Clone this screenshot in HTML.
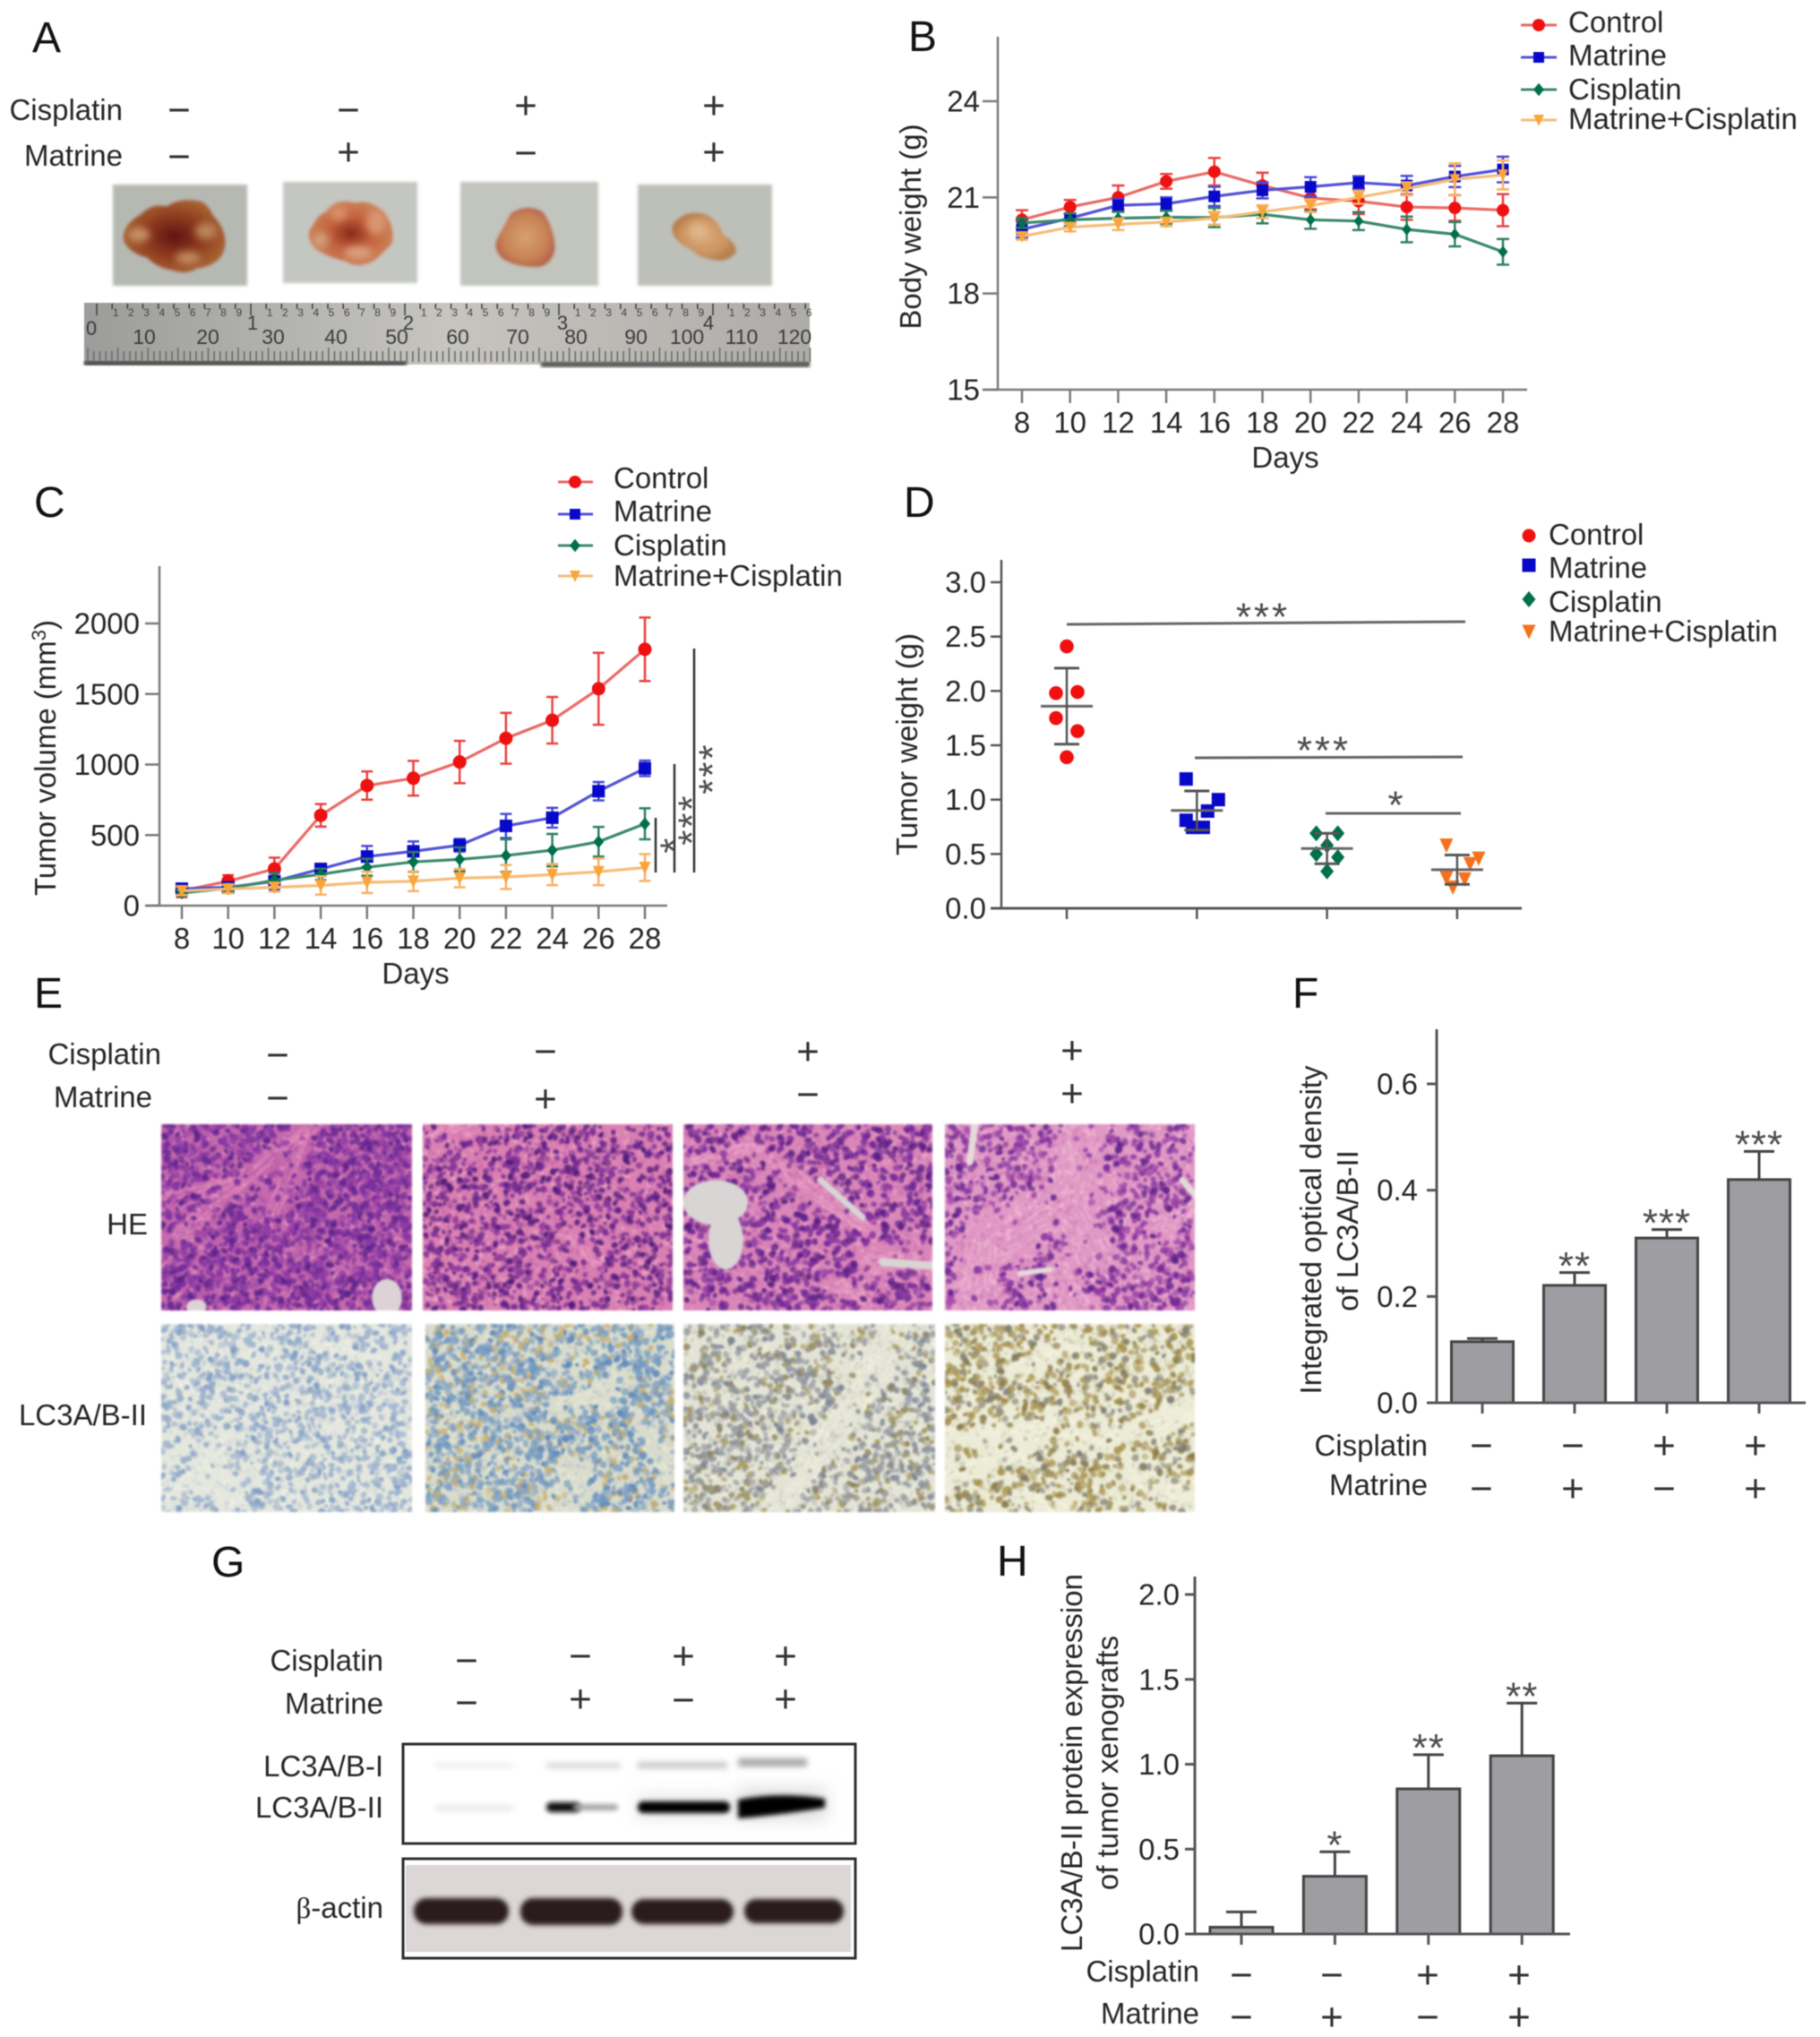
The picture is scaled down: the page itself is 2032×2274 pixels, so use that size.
<!DOCTYPE html>
<html lang="en">
<head>
<meta charset="utf-8">
<title>Matrine and cisplatin tumor xenograft figure</title>
<style>
  html, body { margin: 0; padding: 0; background: #fff; }
  #figure { position: relative; width: 2032px; height: 2274px; overflow: hidden; background: #fff; }
  #figure canvas { position: absolute; filter: blur(1.1px); }
  #plot { position: absolute; left: 0; top: 0; filter: blur(0.55px); }
  text { font-family: "Liberation Sans", "DejaVu Sans", sans-serif; fill: #262626; font-size: 33px; }
  .letter { font-size: 48px; fill: #111; }
  .end { text-anchor: end; }
  .mid { text-anchor: middle; }
</style>
</head>
<body>
<div id="figure">
<svg id="plot" width="2032" height="2274" viewBox="0 0 2032 2274" xmlns="http://www.w3.org/2000/svg">
  <defs>
    <filter id="soft" x="-10%" y="-10%" width="120%" height="120%"><feGaussianBlur stdDeviation="1.6"/></filter>
    <filter id="patch" x="-60%" y="-60%" width="220%" height="220%"><feGaussianBlur stdDeviation="4"/></filter>
    <filter id="band" x="-20%" y="-400%" width="140%" height="900%"><feGaussianBlur stdDeviation="2.6"/></filter>
    <filter id="faint" x="-20%" y="-500%" width="140%" height="1100%"><feGaussianBlur stdDeviation="3.4"/></filter>
    <filter id="halo" x="-40%" y="-200%" width="180%" height="500%"><feGaussianBlur stdDeviation="10"/></filter>
    <radialGradient id="t1"><stop offset="0" stop-color="#5f1512"/><stop offset=".55" stop-color="#8e3a20"/><stop offset="1" stop-color="#a8622f"/></radialGradient>
    <radialGradient id="t2"><stop offset="0" stop-color="#8a2a1c"/><stop offset=".5" stop-color="#c2603c"/><stop offset="1" stop-color="#cc8258"/></radialGradient>
    <radialGradient id="t3"><stop offset="0" stop-color="#d6a070"/><stop offset=".7" stop-color="#c98456"/><stop offset="1" stop-color="#b76a4c"/></radialGradient>
    <radialGradient id="t4"><stop offset="0" stop-color="#d9a878"/><stop offset=".7" stop-color="#cb9460"/><stop offset="1" stop-color="#b8804c"/></radialGradient>
    <linearGradient id="rulerFill" x1="0" x2="1" y1="0" y2="0"><stop offset="0" stop-color="#9c9c9a"/><stop offset=".5" stop-color="#c6c5c0"/><stop offset="1" stop-color="#aeaca8"/></linearGradient>
  </defs>

  <g id="panel-a">
    <text class="letter" x="36" y="58">A</text>
    <text class="end" x="137" y="134">Cisplatin</text>
    <text class="end" x="137" y="185">Matrine</text>
    <g filter="url(#soft)">
      <rect x="126" y="206" width="150" height="113" fill="#b6b9b2"/>
      <path d="M158 238 Q170 226 186 230 Q200 220 222 224 Q232 226 238 240 Q252 254 252 272 Q250 296 220 300 Q208 308 192 302 Q176 300 164 288 Q146 284 138 270 Q134 252 158 238 Z" fill="url(#t1)"/>
      <g filter="url(#patch)">
        <ellipse cx="155" cy="262" rx="12" ry="8" fill="#c79068"/>
        <ellipse cx="230" cy="258" rx="12" ry="9" fill="#bb8458"/>
        <ellipse cx="210" cy="288" rx="14" ry="7" fill="#c08a5c"/>
      </g>
      <rect x="316" y="203" width="150" height="113" fill="#c4c7c1"/>
      <path d="M364 236 Q376 220 396 226 Q414 222 428 236 Q442 252 438 272 Q428 282 420 290 Q400 302 386 292 Q366 288 352 278 Q338 262 350 250 Q354 240 364 236 Z" fill="url(#t2)"/>
      <g filter="url(#patch)">
        <ellipse cx="420" cy="248" rx="11" ry="14" fill="#d99570"/>
        <ellipse cx="378" cy="238" rx="10" ry="8" fill="#d8906a"/>
        <ellipse cx="400" cy="282" rx="16" ry="7" fill="#dba080"/>
        <ellipse cx="358" cy="268" rx="8" ry="9" fill="#d0a07c"/>
      </g>
      <rect x="514" y="203" width="154" height="116" fill="#c2c5bd"/>
      <path d="M570 238 Q588 226 606 236 Q618 252 620 274 Q620 292 604 298 Q580 300 562 290 Q548 278 556 264 Q564 250 570 238 Z" fill="url(#t3)"/>
      <rect x="712" y="206" width="150" height="113" fill="#bdc0b8"/>
      <path d="M760 242 Q772 234 790 240 Q802 246 808 262 Q822 270 822 282 Q812 294 796 290 Q780 288 770 278 Q752 270 750 256 Q750 248 760 242 Z" fill="url(#t4)"/>
      <ellipse cx="780" cy="258" rx="11" ry="9" fill="#e0b68c" filter="url(#patch)"/>
    </g>
    <g id="ruler">
      <rect x="94" y="338" width="810" height="69" fill="url(#rulerFill)"/>
      <rect x="94" y="403" width="360" height="5" fill="#444" filter="url(#soft)"/>
      <rect x="604" y="404" width="300" height="6" fill="#555" filter="url(#soft)"/>
    </g>
  </g>

  <g id="panel-b">
    <text class="letter" x="1014" y="57">B</text>
    <text class="mid" transform="rotate(-90 1028 253)" x="1028" y="253">Body weight (g)</text>
    <text class="mid" x="1435" y="522">Days</text>
  </g>

  <g id="panel-c">
    <text class="letter" x="38" y="577">C</text>
    <text class="mid" transform="rotate(-90 62 846)" x="62" y="846">Tumor volume (mm<tspan font-size="22" dy="-11">3</tspan><tspan dy="11">)</tspan></text>
    <text class="mid" x="464" y="1098">Days</text>
  </g>

  <g id="panel-d">
    <text class="letter" x="1009" y="577">D</text>
    <text class="mid" transform="rotate(-90 1024 831)" x="1024" y="831">Tumor weight (g)</text>
  </g>

  <g id="panel-e">
    <text class="letter" x="38" y="1125">E</text>
    <text class="end" x="180" y="1188">Cisplatin</text>
    <text class="end" x="170" y="1236">Matrine</text>
    <text class="end" x="165" y="1378">HE</text>
    <text class="end" x="164" y="1591">LC3A/B-II</text>
  </g>

  <g id="panel-f">
    <text class="letter" x="1443" y="1125">F</text>
    <text class="mid" transform="rotate(-90 1475 1373)" x="1475" y="1373">Integrated optical density</text>
    <text class="mid" transform="rotate(-90 1516 1374)" x="1516" y="1374">of LC3A/B-II</text>
    <text class="end" x="1594" y="1625">Cisplatin</text>
    <text class="end" x="1594" y="1669">Matrine</text>
  </g>

  <g id="panel-g">
    <text class="letter" x="236" y="1760">G</text>
    <text class="end" x="428" y="1865">Cisplatin</text>
    <text class="end" x="428" y="1913">Matrine</text>
    <text class="end" x="428" y="1983">LC3A/B-I</text>
    <text class="end" x="428" y="2029">LC3A/B-II</text>
    <text class="end" x="428" y="2141"><tspan font-family="'Liberation Serif', serif">β</tspan>-actin</text>

    <rect x="450" y="1947" width="505" height="111" fill="#fff"/>
    <g>
      <rect x="486" y="1969" width="87" height="4" fill="#e6e6e6" filter="url(#faint)"/>
      <rect x="610" y="1968" width="83" height="6" fill="#d4d4d4" filter="url(#faint)"/>
      <rect x="712" y="1967" width="100" height="7" fill="#c4c4c4" filter="url(#faint)"/>
      <rect x="824" y="1963" width="77" height="9" fill="#a4a4a4" filter="url(#faint)"/>
      <rect x="486" y="2016" width="87" height="5" fill="#e2e2e2" filter="url(#faint)"/>
      <rect x="712" y="2006" width="104" height="22" fill="#e2e2e2" filter="url(#halo)"/>
      <rect x="824" y="1998" width="98" height="32" fill="#d8d8d8" filter="url(#halo)"/>
      <rect x="610" y="2012" width="38" height="11" rx="5" fill="#111" filter="url(#band)"/>
      <rect x="640" y="2014" width="50" height="7" rx="3" fill="#a4a4a4" filter="url(#band)"/>
      <rect x="712" y="2011" width="103" height="13" rx="6" fill="#060606" filter="url(#band)"/>
      <path d="M824 2009 Q870 2000 921 2008 L921 2018 Q870 2026 824 2030 Z" fill="#020202" filter="url(#band)"/>
    </g>
    <rect x="450" y="1947" width="505" height="111" fill="none" stroke="#2e2e2e" stroke-width="3"/>
    <rect x="450" y="2075" width="505" height="111" fill="#fff"/>
    <rect x="453" y="2082" width="497" height="97" fill="#dcd6d6"/>
    <g filter="url(#band)">
      <rect x="462" y="2119" width="106" height="29" rx="14" fill="#2a1a1e"/>
      <rect x="581" y="2119" width="114" height="30" rx="14" fill="#2a1a1e"/>
      <rect x="705" y="2120" width="114" height="28" rx="14" fill="#2a1a1e"/>
      <rect x="831" y="2120" width="111" height="27" rx="13" fill="#2a1a1e"/>
    </g>
    <rect x="450" y="2075" width="505" height="111" fill="none" stroke="#2e2e2e" stroke-width="3"/>
  </g>

  <g id="panel-h">
    <text class="letter" x="1113" y="1759">H</text>
    <text class="mid" transform="rotate(-90 1208 1968)" x="1208" y="1968">LC3A/B-II protein expression</text>
    <text class="mid" transform="rotate(-90 1248 1968)" x="1248" y="1968">of tumor xenografts</text>
    <text class="end" x="1339" y="2212">Cisplatin</text>
    <text class="end" x="1339" y="2259">Matrine</text>
  </g>
</svg>
</div>

<script>
// ---------- chart data ----------
const days = [8, 10, 12, 14, 16, 18, 20, 22, 24, 26, 28];
const seriesNames = ['Control', 'Matrine', 'Cisplatin', 'Matrine+Cisplatin'];

// Panel B: body weight (g)
const bwTicks = [15, 18, 21, 24];
const bwControl = [20.3, 20.7, 21.0, 21.5, 21.8, 21.37, 20.98, 20.88, 20.7, 20.67, 20.6];
const bwControlErr = [0.3, 0.22, 0.37, 0.23, 0.43, 0.4, 0.35, 0.4, 0.4, 0.4, 0.5];
const bwMatrine = [20.0, 20.35, 20.75, 20.8, 21.03, 21.22, 21.33, 21.46, 21.37, 21.65, 21.87];
const bwMatrineErr = [0.25, 0.15, 0.2, 0.2, 0.3, 0.25, 0.3, 0.2, 0.3, 0.33, 0.4];
const bwCisplatin = [20.2, 20.3, 20.35, 20.38, 20.37, 20.47, 20.3, 20.26, 20.0, 19.85, 19.3];
const bwCisplatinErr = [0.15, 0.2, 0.2, 0.2, 0.3, 0.28, 0.28, 0.28, 0.4, 0.38, 0.4];
const bwCombo = [19.78, 20.07, 20.16, 20.23, 20.35, 20.55, 20.74, 21.0, 21.27, 21.56, 21.7];
const bwComboErr = [0.1, 0.13, 0.18, 0.13, 0.2, 0.2, 0.2, 0.2, 0.2, 0.5, 0.45];

// Panel C: tumor volume (mm3)
const tvTicks = [0, 500, 1000, 1500, 2000];
const tvControl = [105, 173, 260, 640, 851, 903, 1018, 1186, 1314, 1537, 1817];
const tvControlErr = [45, 43, 80, 80, 100, 123, 150, 180, 165, 255, 225];
const tvMatrine = [120, 130, 172, 260, 348, 385, 428, 565, 623, 811, 973];
const tvMatrineErr = [30, 25, 60, 30, 75, 70, 45, 85, 70, 65, 55];
const tvCisplatin = [90, 122, 180, 222, 272, 310, 328, 355, 393, 453, 580];
const tvCisplatinErr = [20, 20, 50, 40, 60, 70, 85, 115, 115, 105, 110];
const tvCombo = [105, 118, 130, 143, 165, 173, 195, 203, 220, 240, 270];
const tvComboErr = [30, 30, 30, 65, 75, 70, 65, 85, 75, 95, 95];

// Panel D: tumor weight (g)
const twTicks = [0, 0.5, 1, 1.5, 2, 2.5, 3];
const twControl = [2.41, 1.98, 1.99, 1.75, 1.63, 1.39];
const twMatrine = [1.19, 1.0, 0.895, 0.81, 0.745, 0.745];
const twCisplatin = [0.69, 0.69, 0.58, 0.5, 0.47, 0.34];
const twCombo = [0.58, 0.46, 0.41, 0.28, 0.27, 0.195];
const twMeans = [1.86, 0.9, 0.55, 0.355];
const twSpreads = [0.35, 0.18, 0.14, 0.135];

// Panel F: integrated optical density
const iodTicks = [0, 0.2, 0.4, 0.6];
const iodValues = [0.115, 0.221, 0.31, 0.42];
const iodUpper = [0.121, 0.245, 0.326, 0.473];
const iodStars = ['', '**', '***', '***'];

// Panel H: LC3A/B-II protein expression
const lc3Ticks = [0, 0.5, 1, 1.5, 2];
const lc3Values = [0.04, 0.34, 0.855, 1.05];
const lc3Upper = [0.13, 0.484, 1.056, 1.36];
const lc3Stars = ['', '*', '**', '**'];

// ---------- helpers ----------
const NS = 'http://www.w3.org/2000/svg';
const scale = (d0, d1, r0, r1) => v => r0 + (v - d0) * (r1 - r0) / (d1 - d0);
const styles = {
  control:   { line: '#e96b66', err: '#e8433f', fill: '#ee1111', strong: '#f01010', shape: 'circle' },
  matrine:   { line: '#5353d6', err: '#4a4ad4', fill: '#0808c8', strong: '#0808c8', shape: 'square' },
  cisplatin: { line: '#3d8a6a', err: '#2f8060', fill: '#00704c', strong: '#00704c', shape: 'diamond' },
  combo:     { line: '#f6bd7a', err: '#f7b264', fill: '#f9a53a', strong: '#f5711c', shape: 'triangle' }
};

function make(tag, attrs, parent) {
  const el = document.createElementNS(NS, tag);
  for (const k in attrs) el.setAttribute(k, attrs[k]);
  parent.appendChild(el);
  return el;
}
function segment(parent, x1, y1, x2, y2, stroke, width, name) {
  const el = make('line', { x1, y1, x2, y2, stroke, 'stroke-width': width }, parent);
  
  
  return el;
}
function label(parent, x, y, str, anchor, name) {
  const el = make('text', { x, y, 'text-anchor': anchor }, parent);
  el.textContent = str;
  
  
  return el;
}
function marker(parent, shape, cx, cy, s, fill, name) {
  let el;
  if (shape === 'circle') el = make('circle', { cx, cy, r: s, fill }, parent);
  else if (shape === 'square') el = make('rect', { x: cx - s, y: cy - s, width: 2 * s, height: 2 * s, fill }, parent);
  else if (shape === 'diamond') el = make('polygon', { points: `${cx},${cy - s * 1.2} ${cx + s},${cy} ${cx},${cy + s * 1.2} ${cx - s},${cy}`, fill }, parent);
  else el = make('polygon', { points: `${cx - s},${cy - s} ${cx + s},${cy - s} ${cx},${cy + s * 1.15}`, fill }, parent);
  
  
  return el;
}
function stars(parent, cx, cy, str, name, vertical, spacing) {
  const fs = 44;
  const el = make('text', { x: 0, y: fs * 0.53, 'text-anchor': 'middle', transform: `translate(${cx} ${cy})` + (vertical ? ' rotate(-90)' : '') }, parent);
  el.textContent = str;
  el.style.fontSize = fs + 'px';
  el.style.fill = '#4c4c4c';
  el.style.letterSpacing = (spacing || 0) + 'px';
  
  
  return el;
}
function signs(parent, rowName, items) {
  items.forEach(([x, y, s]) => {
    const el = make('text', { x, y: y + 15.4, 'text-anchor': 'middle' }, parent);
    el.textContent = s;
    el.style.fontSize = '44px';
    el.style.fill = '#333';
    
    
  });
}
function yAxis(parent, ticks, yScale, x, tickX, top, bottom, labelX, fmt, color, w) {
  segment(parent, x, top, x, bottom, color, w, 'y-axis-line');
  ticks.forEach(t => {
    segment(parent, tickX, yScale(t), x, yScale(t), color, w, 'y-axis-tick');
    label(parent, labelX, yScale(t) + 11.5, fmt(t), 'end', 'y-tick-label');
  });
}
function lineSeries(parent, key, values, errs, xs, ys, capHalf, r) {
  const st = styles[key];
  const g = make('g', {}, parent);
  
  
  values.forEach((v, i) => {
    const x = xs(days[i]);
    segment(g, x, ys(v - errs[i]), x, ys(v + errs[i]), st.err, 2.5, key + '-error-bar');
    segment(g, x - capHalf, ys(v + errs[i]), x + capHalf, ys(v + errs[i]), st.err, 2.5, key + '-error-cap');
    segment(g, x - capHalf, ys(v - errs[i]), x + capHalf, ys(v - errs[i]), st.err, 2.5, key + '-error-cap');
  });
  const path = make('polyline', {
    points: values.map((v, i) => xs(days[i]) + ',' + ys(v)).join(' '),
    fill: 'none', stroke: st.line, 'stroke-width': 3.2
  }, g);
  
  
  values.forEach((v, i) => {
    const size = st.shape === 'circle' ? r : st.shape === 'square' ? r - 0.5 : st.shape === 'diamond' ? r - 1.5 : r - 1;
    marker(g, st.shape, xs(days[i]), ys(v), size, st.fill, key + '-point');
  });
}
function lineLegend(parent, x1, x2, mx, textX, markY, textY) {
  ['control', 'matrine', 'cisplatin', 'combo'].forEach((key, i) => {
    const st = styles[key];
    const g = make('g', {}, parent);
    
    
    segment(g, x1, markY[i], x2, markY[i], st.line, 3, 'legend-line');
    marker(g, st.shape, mx, markY[i], st.shape === 'circle' ? 7 : 6, st.fill, 'legend-marker');
    label(g, textX, textY[i], seriesNames[i], 'start', 'legend-label');
  });
}
function barPanel(parent, ticks, values, uppers, sig, cfg) {
  const ys = scale(0, cfg.refValue, cfg.y0, cfg.refY);
  values.forEach((v, i) => {
    const cx = cfg.first + i * cfg.step;
    const bar = make('rect', { x: cx - cfg.width / 2, y: ys(v), width: cfg.width, height: cfg.y0 - ys(v), fill: '#9d9da2', stroke: '#444', 'stroke-width': 3 }, parent);
    
    
    segment(parent, cx, ys(v), cx, ys(uppers[i]), '#444', 3, 'error-bar');
    segment(parent, cx - 17, ys(uppers[i]), cx + 17, ys(uppers[i]), '#444', 3, 'error-cap');
    segment(parent, cx, cfg.y0, cx, cfg.y0 + 12, '#555', 3, 'x-axis-tick');
    if (sig[i]) stars(parent, cx, ys(uppers[i]) - 16, sig[i], 'significance-stars', false, 1);
  });
  yAxis(parent, ticks, ys, cfg.axisX, cfg.axisX - 11, cfg.top, cfg.y0, cfg.labelX, t => t.toFixed(1), '#555', 3);
  segment(parent, cfg.axisX - 11, cfg.y0, cfg.right, cfg.y0, '#555', 3, 'x-axis-line');
}

// ---------- panel A ----------
(function () {
  const a = document.getElementById('panel-a');
  signs(a, 'cisplatin-sign', [[200, 122, '−'], [389, 122, '−'], [587, 117, '+'], [797, 117, '+']]);
  signs(a, 'matrine-sign', [[200, 174, '−'], [389, 169, '+'], [587, 170, '−'], [797, 169, '+']]);
  const ruler = document.getElementById('ruler');
  const mm = [10, 20, 30, 40, 50, 60, 70, 80, 90, 100, 110, 120];
  const mmX = [161, 232, 305, 375, 443, 511, 578, 643, 710, 767, 828, 887];
  mm.forEach((m, i) => {
    const t = label(ruler, mmX[i], 384, String(m), 'middle', 'ruler-millimetre-label');
    t.style.fontSize = '23px';
    t.style.fill = '#3c3c3c';
  });
  [['0', 102, 374], ['1', 282, 368], ['2', 456, 368], ['3', 628, 368], ['4', 791, 368]].forEach(([s, x, y]) => {
    const t = label(ruler, x, y, s, 'middle', 'ruler-inch-label');
    t.style.fontSize = '22px';
    t.style.fill = '#3c3c3c';
  });
  for (let i = 0; i <= 120; i++) {
    const x = 98 + i * 6.72;
    segment(ruler, x, i % 5 === 0 ? 388 : 392, x, 404, '#6d6d6b', 1.6, 'ruler-millimetre-tick');
  }
  for (let i = 0; i <= 47; i++) {
    const x = 108 + i * 17.2;
    if (x > 902) break;
    segment(ruler, x, 339, x, i % 10 === 0 ? 352 : 345, '#444', 1.6, 'ruler-inch-tick');
    if (i % 10 !== 0) {
      const t = label(ruler, x + 4, 353, String(i % 10), 'middle', 'ruler-inch-subdivision');
      t.style.fontSize = '12px';
      t.style.fill = '#444';
    }
  }
})();

// ---------- panel B ----------
(function () {
  const p = document.getElementById('panel-b');
  const xs = scale(8, 28, 1141, 1678);
  const ys = scale(15, 24, 435, 113);
  lineSeries(p, 'control', bwControl, bwControlErr, xs, ys, 7, 7);
  lineSeries(p, 'matrine', bwMatrine, bwMatrineErr, xs, ys, 7, 7);
  lineSeries(p, 'cisplatin', bwCisplatin, bwCisplatinErr, xs, ys, 7, 7);
  lineSeries(p, 'combo', bwCombo, bwComboErr, xs, ys, 7, 7);
  yAxis(p, bwTicks, ys, 1114, 1097, 41, 435, 1094, t => String(t), '#7a7a7a', 2.5);
  segment(p, 1097, 435, 1705, 435, '#7a7a7a', 2.5, 'x-axis-line');
  days.forEach(d => {
    segment(p, xs(d), 435, xs(d), 450, '#7a7a7a', 2.5, 'x-axis-tick');
    label(p, xs(d), 483, String(d), 'middle', 'x-tick-label');
  });
  lineLegend(p, 1698, 1738, 1718, 1751, [28, 64, 100, 134], [36, 73, 111, 144]);
})();

// ---------- panel C ----------
(function () {
  const p = document.getElementById('panel-c');
  const xs = scale(8, 28, 203, 720);
  const ys = scale(0, 2000, 1011, 696);
  lineSeries(p, 'control', tvControl, tvControlErr, xs, ys, 6.5, 7.5);
  lineSeries(p, 'matrine', tvMatrine, tvMatrineErr, xs, ys, 6.5, 7.5);
  lineSeries(p, 'cisplatin', tvCisplatin, tvCisplatinErr, xs, ys, 6.5, 7.5);
  lineSeries(p, 'combo', tvCombo, tvComboErr, xs, ys, 6.5, 7.5);
  yAxis(p, tvTicks, ys, 178, 162, 632, 1011, 156, t => String(t), '#7a7a7a', 2.5);
  segment(p, 162, 1011, 745, 1011, '#7a7a7a', 2.5, 'x-axis-line');
  days.forEach(d => {
    segment(p, xs(d), 1011, xs(d), 1026, '#7a7a7a', 2.5, 'x-axis-tick');
    label(p, xs(d), 1059, String(d), 'middle', 'x-tick-label');
  });
  lineLegend(p, 623, 662, 642, 685, [538, 574, 609, 643], [545, 582, 620, 654]);
  segment(p, 732, 913, 732, 974, '#333', 2.5, 'significance-bar-cisplatin-vs-combination');
  segment(p, 753, 853, 753, 974, '#333', 2.5, 'significance-bar-matrine-vs-combination');
  segment(p, 775, 724, 775, 974, '#333', 2.5, 'significance-bar-control-vs-combination');
  stars(p, 744, 943, '*', 'significance-star', true, 2);
  stars(p, 764, 915, '***', 'significance-stars', true, 2);
  stars(p, 787, 858, '***', 'significance-stars', true, 2);
})();

// ---------- panel D ----------
(function () {
  const p = document.getElementById('panel-d');
  const ys = scale(0, 3, 1014, 650);
  const groupX = i => 1191 + i * 145.3;
  const keys = ['control', 'matrine', 'cisplatin', 'combo'];
  const groups = [twControl, twMatrine, twCisplatin, twCombo];
  const swarm = [[0, -1, 1, -1, 1, 0], [-1, 2, 1, -1, -0.4, 0.6], [-1, 1, 0, -1, 1, 0], [-1, 2, 1.2, -1, 0.7, -0.4]];
  groups.forEach((vals, g) => {
    const key = keys[g];
    vals.forEach((v, i) => {
      const size = styles[key].shape === 'circle' ? 7.8 : 7.5;
      marker(p, styles[key].shape, groupX(g) + swarm[g][i] * 12, ys(v), size, styles[key].strong, key + '-point');
    });
    const cx = groupX(g);
    segment(p, cx - 29, ys(twMeans[g]), cx + 29, ys(twMeans[g]), '#666', 3, key + '-mean-line');
    segment(p, cx, ys(twMeans[g] + twSpreads[g]), cx, ys(twMeans[g] - twSpreads[g]), '#555', 2.5, key + '-error-bar');
    segment(p, cx - 14, ys(twMeans[g] + twSpreads[g]), cx + 14, ys(twMeans[g] + twSpreads[g]), '#555', 3, key + '-error-cap');
    segment(p, cx - 14, ys(twMeans[g] - twSpreads[g]), cx + 14, ys(twMeans[g] - twSpreads[g]), '#555', 3, key + '-error-cap');
    segment(p, cx, 1014, cx, 1026, '#555', 2.5, 'x-axis-tick');
  });
  yAxis(p, twTicks, ys, 1118, 1106, 625, 1014, 1101, t => t.toFixed(1), '#555', 2.5);
  segment(p, 1106, 1014, 1699, 1014, '#555', 3, 'x-axis-line');
  segment(p, 1191, 697, 1636, 694, '#666', 3, 'significance-line-control');
  segment(p, 1334, 846, 1633, 845, '#666', 3, 'significance-line-matrine');
  segment(p, 1480, 908, 1631, 908, '#666', 3, 'significance-line-cisplatin');
  stars(p, 1410, 680, '***', 'significance-stars', false, 3);
  stars(p, 1478, 829, '***', 'significance-stars', false, 3);
  stars(p, 1558, 890, '*', 'significance-star', false, 0);
  const my = [598, 631, 669, 705], ty = [608, 645, 683, 716];
  keys.forEach((key, i) => {
    const g = make('g', {}, p);
    
    
    marker(g, styles[key].shape, 1707, my[i], 7.5, styles[key].strong, 'legend-marker');
    label(g, 1729, ty[i], seriesNames[i], 'start', 'legend-label');
  });
})();

// ---------- panel E sign rows ----------
(function () {
  const p = document.getElementById('panel-e');
  signs(p, 'cisplatin-sign', [[310, 1177, '−'], [609, 1173, '−'], [902, 1173, '+'], [1197, 1172, '+']]);
  signs(p, 'matrine-sign', [[310, 1225, '−'], [609, 1226, '+'], [902, 1221, '−'], [1197, 1220, '+']]);
})();

// ---------- panel F ----------
(function () {
  const p = document.getElementById('panel-f');
  barPanel(p, iodTicks, iodValues, iodUpper, iodStars, {
    y0: 1566, refValue: 0.6, refY: 1210, first: 1655, step: 103, width: 69,
    axisX: 1604, top: 1149, right: 2016, labelX: 1583
  });
  signs(p, 'cisplatin-sign', [[1654, 1613, '−'], [1756, 1613, '−'], [1858, 1613, '+'], [1960, 1613, '+']]);
  signs(p, 'matrine-sign', [[1654, 1661, '−'], [1756, 1661, '+'], [1858, 1661, '−'], [1960, 1661, '+']]);
})();

// ---------- panel G sign rows ----------
(function () {
  const p = document.getElementById('panel-g');
  signs(p, 'cisplatin-sign', [[521, 1853, '−'], [648, 1848, '−'], [763, 1848, '+'], [877, 1848, '+']]);
  signs(p, 'matrine-sign', [[521, 1900, '−'], [648, 1896, '+'], [763, 1897, '−'], [877, 1896, '+']]);
})();

// ---------- panel H ----------
(function () {
  const p = document.getElementById('panel-h');
  barPanel(p, lc3Ticks, lc3Values, lc3Upper, lc3Stars, {
    y0: 2159, refValue: 2, refY: 1780, first: 1386, step: 104.4, width: 70,
    axisX: 1334, top: 1760, right: 1753, labelX: 1317
  });
  signs(p, 'cisplatin-sign', [[1386, 2204, '−'], [1487, 2204, '−'], [1594, 2204, '+'], [1696, 2204, '+']]);
  signs(p, 'matrine-sign', [[1386, 2251, '−'], [1487, 2251, '+'], [1594, 2251, '−'], [1696, 2251, '+']]);
})();

// ---------- panel E micrograph textures (decorative, not chart data) ----------
const tissuePanels = [
  { name: 'he-image-control', x: 180, y: 1255, w: 280, h: 208, base: '#c469ac', cells: 2300, r: [2.4, 4.4],
    colors: ['#6a2a96', '#7b2f9f', '#8d3aa5', '#5a2289', '#a24aa8'], speck: ['#e8a0c8', '#b050a8'], fiber: '#e890bc',
    bands: [[.05, .62, .55, .05, .045], [.6, 0, .45, .45, .04], [0, .4, .25, .3, .025]],
    holes: [[.9, .93, .06, .1], [.14, .98, .04, .04]], streaks: [], hole: '#ddd3d6' },
  { name: 'he-image-matrine', x: 472, y: 1255, w: 279, h: 208, base: '#da80b2', cells: 1350, r: [2.2, 4.2],
    colors: ['#5b1f85', '#7b2a95', '#4d1a78', '#8a3a9c'], speck: ['#f0b0cc', '#c060a8'], fiber: '#eca0c4',
    bands: [[.55, .55, .7, .75, .025], [.05, .05, .2, .02, .03]], holes: [], streaks: [], hole: '#ddd' },
  { name: 'he-image-cisplatin', x: 763, y: 1255, w: 278, h: 208, base: '#da86b8', cells: 1250, r: [2.5, 4.6],
    colors: ['#5b2089', '#74289a', '#8b3aa3', '#5a1e80'], speck: ['#f0b4cf', '#c060a8'], fiber: '#efa9c8',
    bands: [[.35, .18, .72, .55, .045], [.72, .72, 1, .75, .05], [0, .2, .3, .12, .03], [.6, .85, .75, .95, .04]],
    holes: [[.13, .42, .13, .12], [.17, .62, .07, .16]],
    streaks: [[.55, .3, .72, .5, 7], [.8, .74, 1, .76, 9]], hole: '#d9d5d4' },
  { name: 'he-image-combination', x: 1055, y: 1255, w: 279, h: 208, base: '#e098c4', cells: 1250, r: [2.4, 4.4],
    colors: ['#5b2089', '#7a2a9a', '#8d3aa5', '#a24aa8'], speck: ['#f3c4da', '#cd78b4'], fiber: '#f2bcd6',
    bands: [[.55, 0, .5, .4, .1], [.5, .4, .15, .65, .14], [.15, .6, .1, 1, .09], [.5, .4, .6, .7, .1], [.45, .75, .5, 1, .07], [.85, .55, 1, .45, .05]],
    holes: [], streaks: [[.12, .0, .1, .2, 8], [.3, .8, .42, .78, 6], [.95, .3, 1, .38, 7]], hole: '#e4dadb' },
  { name: 'lc3-image-control', x: 180, y: 1478, w: 280, h: 210, base: '#e4e7dd', cells: 1200, r: [2.2, 4.2],
    colors: ['#8fa8cc', '#7f9cc6', '#a3b8d4', '#9db0c8'], speck: ['#f4f4ea', '#c0cad4'], fiber: '#eeeee4',
    bands: [[.2, .8, .3, 1, .07], [.1, .9, .25, .6, .05], [.9, .2, .6, .1, .03]], holes: [], streaks: [], hole: '#eee' },
  { name: 'lc3-image-matrine', x: 475, y: 1478, w: 278, h: 210, base: '#d8dccd', cells: 1900, r: [2.2, 4.4],
    colors: ['#6f98c2', '#5f88ba', '#86a6c8', '#c8ae70', '#7fa0c2'], speck: ['#efecd4', '#b0bcc4'], fiber: '#ecebd8',
    bands: [[.55, 1, .6, .8, .07], [.55, .45, .8, .3, .06], [.9, .6, 1, .8, .06]], holes: [], streaks: [], hole: '#eee' },
  { name: 'lc3-image-cisplatin', x: 763, y: 1478, w: 281, h: 210, base: '#e4e4d6', cells: 1350, r: [2.2, 4.4],
    colors: ['#8b9198', '#7b8392', '#9da19f', '#a89a60', '#8f8460', '#8d93a0'], speck: ['#f2f1e2', '#b8baae'], fiber: '#f2f1e2',
    bands: [[.35, 1, .55, .65, .07], [.55, .65, .8, .2, .07], [.65, .3, .85, 0, .05]], holes: [], streaks: [], hole: '#eee' },
  { name: 'lc3-image-combination', x: 1055, y: 1478, w: 279, h: 210, base: '#ebebd6', cells: 1250, r: [2.2, 4.6],
    colors: ['#a08a4c', '#8a7a48', '#b09c58', '#8f8c80', '#a8924c', '#7f7c70'], speck: ['#f6f5e4', '#c4bfa0'], fiber: '#f6f5e4',
    bands: [[0, .62, .5, .55, .06], [.3, .65, 0, .85, .06], [.6, .65, 1, .45, .07], [.3, .25, .5, .1, .05], [.75, .8, 1, .95, .06], [.3, .9, .5, 1, .04]], holes: [], streaks: [], hole: '#eee' }
];
function seeded(a) {
  return function () {
    a |= 0; a = a + 0x6D2B79F5 | 0;
    let t = Math.imul(a ^ a >>> 15, 1 | a);
    t = t + Math.imul(t ^ t >>> 7, 61 | t) ^ t;
    return ((t ^ t >>> 14) >>> 0) / 4294967296;
  };
}
function distToBand(px, py, b) {
  const dx = b[2] - b[0], dy = b[3] - b[1];
  let u = ((px - b[0]) * dx + (py - b[1]) * dy) / (dx * dx + dy * dy);
  u = Math.max(0, Math.min(1, u));
  return Math.hypot(px - b[0] - u * dx, py - b[1] - u * dy);
}
tissuePanels.forEach((t, idx) => {
  const c = document.createElement('canvas');
  c.width = t.w; c.height = t.h;
  c.style.left = t.x + 'px'; c.style.top = t.y + 'px';
  
  
  document.getElementById('figure').insertBefore(c, document.getElementById('plot'));
  const ctx = c.getContext('2d');
  const rnd = seeded(1234 + idx * 97);
  ctx.fillStyle = t.base;
  ctx.fillRect(0, 0, t.w, t.h);
  // background speckle so flat areas are not uniform
  for (let i = 0; i < 1400; i++) {
    ctx.fillStyle = t.speck[Math.floor(rnd() * t.speck.length)];
    ctx.globalAlpha = 0.25 + rnd() * 0.4;
    ctx.beginPath();
    ctx.ellipse(rnd() * t.w, rnd() * t.h, 1.5 + rnd() * 2.5, 1 + rnd() * 1.5, rnd() * Math.PI, 0, Math.PI * 2);
    ctx.fill();
  }
  // stromal fibres along the cell-free bands
  ctx.lineWidth = 1.6;
  ctx.strokeStyle = t.fiber;
  t.bands.forEach(b => {
    const dx = (b[2] - b[0]) * t.w, dy = (b[3] - b[1]) * t.h;
    for (let i = 0; i < 40; i++) {
      const u = rnd(), off = (rnd() - 0.5) * b[4] * 2 * t.h;
      const x = b[0] * t.w + u * dx - dy * off / (Math.hypot(dx, dy) + 1e-6);
      const y = b[1] * t.h + u * dy + dx * off / (Math.hypot(dx, dy) + 1e-6);
      ctx.globalAlpha = 0.6;
      ctx.beginPath();
      ctx.moveTo(x, y);
      ctx.lineTo(x + dx * 0.12, y + dy * 0.12);
      ctx.stroke();
    }
  });
  // nuclei
  for (let i = 0; i < t.cells; i++) {
    const nx = rnd(), ny = rnd();
    const inBand = t.bands.some(b => distToBand(nx, ny, b) < b[4] * (0.7 + rnd() * 0.5));
    if (inBand && rnd() > 0.1) continue;
    const r = t.r[0] + rnd() * (t.r[1] - t.r[0]);
    ctx.fillStyle = t.colors[Math.floor(rnd() * t.colors.length)];
    ctx.globalAlpha = 0.5 + rnd() * 0.45;
    ctx.beginPath();
    ctx.ellipse(nx * t.w, ny * t.h, r, r * (0.6 + rnd() * 0.4), rnd() * Math.PI, 0, Math.PI * 2);
    ctx.fill();
  }
  ctx.globalAlpha = 1;
  ctx.fillStyle = t.hole;
  ctx.strokeStyle = t.hole;
  ctx.lineCap = 'round';
  t.holes.forEach(h => {
    ctx.beginPath();
    ctx.ellipse(h[0] * t.w, h[1] * t.h, h[2] * t.w, h[3] * t.h, 0, 0, Math.PI * 2);
    ctx.fill();
  });
  t.streaks.forEach(s => {
    ctx.lineWidth = s[4];
    ctx.beginPath();
    ctx.moveTo(s[0] * t.w, s[1] * t.h);
    ctx.lineTo(s[2] * t.w, s[3] * t.h);
    ctx.stroke();
  });
});
</script>
</body>
</html>
